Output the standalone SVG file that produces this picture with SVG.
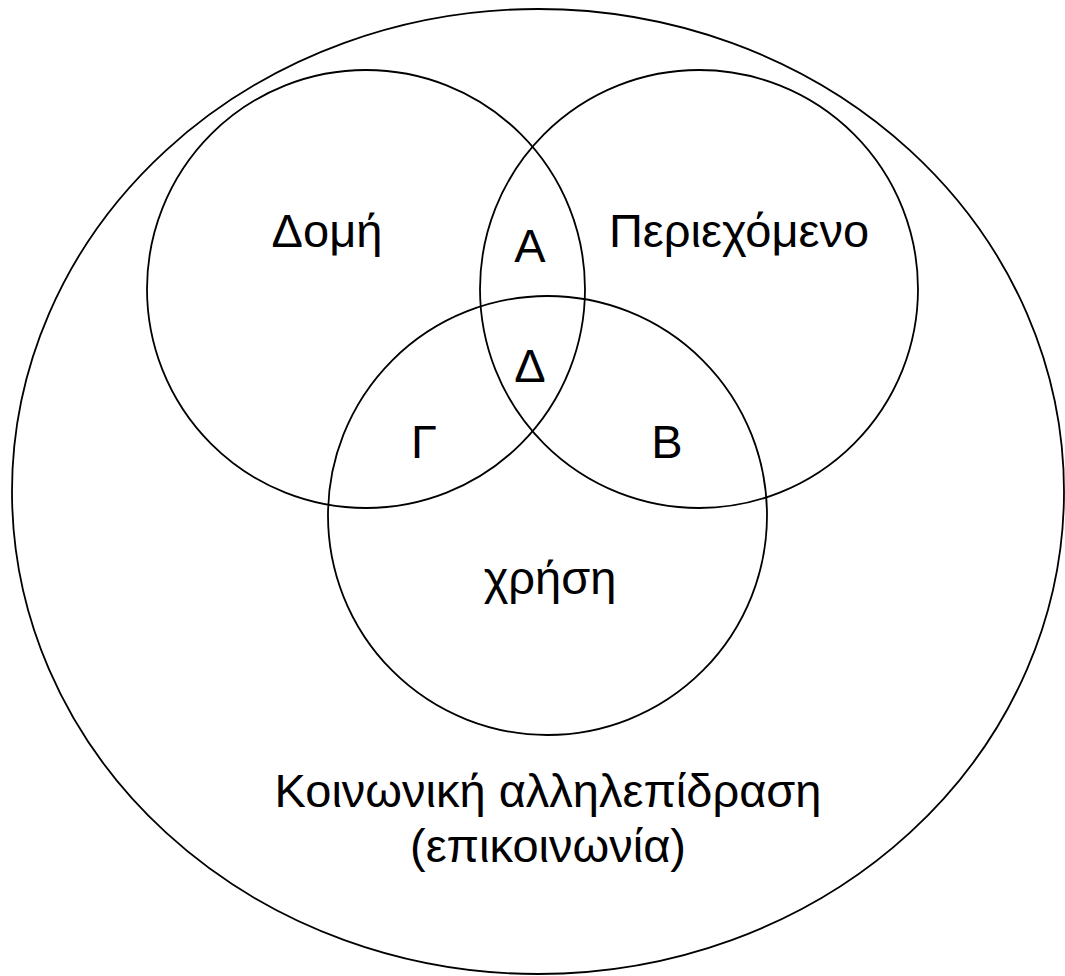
<svg xmlns="http://www.w3.org/2000/svg" width="1065" height="976" viewBox="0 0 1065 976">
<style>
.shape{fill:none;stroke:#000;stroke-width:1.8}
.lbl{font-family:"Liberation Sans",Arial,sans-serif;font-size:47px;fill:#000;text-anchor:middle}
</style>
<rect x="0" y="0" width="1065" height="976" fill="#fff"/>
<g id="social">
<ellipse class="shape" cx="538" cy="491.5" rx="526" ry="482.5"/>
<text class="lbl" x="548" y="807">Κοινωνική αλληλεπίδραση</text>
<text class="lbl" x="548" y="862">(επικοινωνία)</text>
</g>
<g id="domi">
<circle class="shape" cx="366" cy="289" r="219"/>
<text class="lbl" x="327" y="247">Δομή</text>
</g>
<g id="periexomeno">
<circle class="shape" cx="699" cy="289" r="219"/>
<text class="lbl" x="739" y="247">Περιεχόμενο</text>
</g>
<g id="xrisi">
<circle class="shape" cx="547.5" cy="515.5" r="219.5"/>
<text class="lbl" x="550" y="594">χρήση</text>
</g>
<g id="regions">
<text class="lbl" x="530" y="262">Α</text>
<text class="lbl" x="530" y="382">Δ</text>
<text class="lbl" x="424" y="458">Γ</text>
<text class="lbl" x="667" y="458">Β</text>
</g>
<g id="connectors"></g>
</svg>
